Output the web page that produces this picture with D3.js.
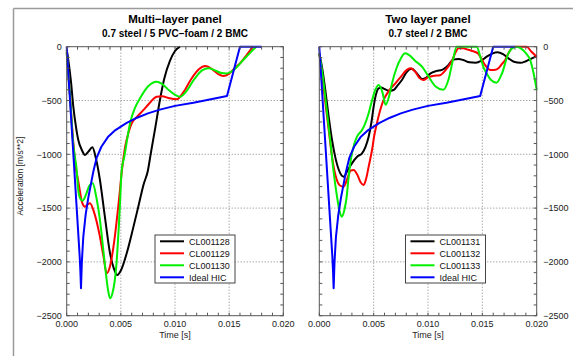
<!DOCTYPE html>
<html><head><meta charset="utf-8">
<script src="https://cdn.jsdelivr.net/npm/d3@7/dist/d3.min.js"></script>
<style>
body{margin:0;background:#fff}
svg{display:block}
text{font-family:"Liberation Sans",Arial,Helvetica,sans-serif}
</style>
</head><body>
<svg id="c" width="573" height="356"></svg>
<script>
// ---- tick labels / text ----
const xTicksMs = [0, 5, 10, 15, 20];
const yTicks = [0, -500, -1000, -1500, -2000, -2500];
const panelTitles = ["Multi\u2212layer panel", "Two layer panel"];
const panelSubtitles = ["0.7 steel / 5 PVC\u2212foam / 2 BMC", "0.7 steel / 2 BMC"];
const legendLeft = ["CL001128", "CL001129", "CL001130", "Ideal HIC"];
const legendRight = ["CL001131", "CL001132", "CL001133", "Ideal HIC"];
const seriesColors = ["#000000", "#ff0000", "#00f000", "#0000ff"];

// ---- data (time in ms, acceleration in m/s**2) ----
const hicT = [0, 1.2, 1.26, 1.32, 1.4, 1.53, 1.75, 2.0, 2.46, 2.77, 3.2, 3.8, 4.5, 5.5, 6.5, 7.5, 8.6, 10, 11.7, 13.2, 14.8, 16.0, 18.0];
const hicV = [0, -1950, -2080, -2245, -2000, -1770, -1560, -1400, -1160, -1030, -930, -840, -775, -710, -660, -620, -585, -550, -520, -490, -458, 0, 0];

const cl128T = [0, 0.15, 0.4, 0.61, 0.85, 1.07, 1.4, 1.69, 2.0, 2.37, 2.7, 3.07, 3.5, 4.0, 4.35, 4.67, 5.0, 5.54, 6.1, 6.61, 7.1, 7.5, 7.75, 8.2, 8.6, 9.0, 9.54, 10.0, 10.46];
const cl128V = [-30, -124, -330, -557, -740, -867, -960, -1006, -975, -935, -1040, -1239, -1560, -1920, -2060, -2122, -2080, -1920, -1700, -1487, -1280, -1150, -1000, -740, -500, -300, -130, -40, 0];

const cl129T = [0, 0.3, 0.6, 0.85, 1.05, 1.2, 1.4, 1.69, 1.9, 2.15, 2.5, 3.07, 3.4, 3.69, 4.0, 4.4, 4.8, 5.1, 5.4, 5.7, 6.0, 6.5, 7.07, 7.6, 8.3, 8.8, 9.5, 10.15, 10.8, 11.5, 12.2, 12.8, 13.5, 14.0, 14.46, 15.0, 15.5, 16.0, 16.6, 17.2];
const cl129V = [-50, -450, -880, -1130, -1240, -1330, -1440, -1487, -1470, -1455, -1530, -1766, -1950, -2106, -2040, -1800, -1450, -1150, -930, -800, -712, -650, -590, -530, -465, -460, -480, -489, -420, -300, -210, -180, -215, -255, -272, -250, -200, -155, -80, 0];

const cl130T = [0, 0.3, 0.6, 0.92, 1.07, 1.25, 1.48, 1.8, 2.1, 2.4, 2.7, 3.07, 3.5, 3.8, 4.0, 4.2, 4.6, 4.85, 5.08, 5.32, 5.6, 5.85, 6.3, 6.77, 7.5, 8.3, 8.8, 9.5, 10.46, 11.0, 11.8, 12.5, 13.1, 13.7, 14.3, 14.77, 15.5, 16.3, 17.0, 17.5];
const cl130V = [-50, -450, -900, -1146, -1332, -1410, -1431, -1370, -1290, -1270, -1380, -1611, -2000, -2250, -2338, -2300, -2013, -1600, -1146, -1022, -850, -712, -570, -480, -370, -325, -345, -410, -465, -420, -300, -220, -200, -220, -245, -248, -210, -124, -50, 0];

const cl131T = [0, 0.3, 0.55, 0.85, 1.17, 1.5, 1.9, 2.24, 2.6, 3.0, 3.5, 3.93, 4.25, 4.54, 4.8, 5.0, 5.2, 5.46, 5.7, 5.92, 6.4, 6.84, 7.2, 7.6, 8.0, 8.5, 9.0, 9.45, 9.8, 10.2, 10.8, 11.3, 11.8, 12.33, 12.8, 13.25, 13.8, 14.4, 14.9, 15.4, 15.9, 16.4, 16.9, 17.4, 17.9, 18.5, 19.0, 19.5, 20];
const cl131V = [-62, -220, -402, -640, -867, -1040, -1170, -1208, -1150, -1084, -1020, -991, -930, -836, -700, -557, -450, -387, -380, -390, -410, -402, -360, -310, -240, -205, -250, -300, -290, -250, -225, -215, -180, -120, -115, -124, -145, -149, -130, -93, -65, -52, -70, -108, -140, -150, -135, -110, -87];

const cl132T = [0, 0.3, 0.6, 0.9, 1.17, 1.5, 1.9, 2.24, 2.6, 2.9, 3.16, 3.5, 3.8, 4.08, 4.3, 4.55, 4.85, 5.05, 5.3, 5.6, 5.92, 6.4, 7.0, 7.5, 8.0, 8.38, 8.8, 9.2, 9.57, 10.06, 10.6, 11.1, 11.6, 12.2, 12.6, 12.8, 13.25, 13.6, 14.0, 14.6, 14.9, 15.25, 15.6, 15.86, 16.2, 16.47, 16.8, 17.1, 17.4, 17.7, 18.0, 19.08, 19.5, 20];
const cl132V = [-62, -300, -560, -800, -1022, -1200, -1290, -1301, -1220, -1150, -1146, -1190, -1260, -1285, -1230, -1110, -960, -830, -712, -590, -495, -410, -340, -280, -220, -201, -230, -290, -310, -280, -270, -265, -220, -130, -40, -15, -15, -25, -37, -62, -110, -170, -210, -217, -215, -201, -160, -124, -60, -15, 0, 0, -45, -93];

const cl133T = [0, 0.3, 0.65, 1.0, 1.3, 1.63, 1.85, 2.06, 2.3, 2.52, 2.67, 2.9, 3.2, 3.47, 3.93, 4.2, 4.54, 4.85, 5.15, 5.46, 5.8, 6.1, 6.45, 6.69, 7.1, 7.5, 7.88, 8.3, 8.8, 9.45, 10.06, 10.7, 11.4, 11.9, 12.3, 12.64, 14.48, 14.8, 15.1, 15.4, 15.8, 16.3, 16.8, 17.4, 17.8, 18.2, 18.6, 19.0, 19.4, 19.7, 20];
const cl133V = [-62, -260, -560, -867, -1150, -1394, -1520, -1580, -1520, -1394, -1240, -1050, -910, -836, -774, -720, -619, -500, -402, -356, -420, -540, -450, -340, -200, -110, -62, -80, -130, -186, -279, -370, -400, -300, -120, 0, 0, -90, -190, -250, -310, -335, -250, -62, -10, 0, -20, -60, -124, -240, -402];

// ---- layout ----
const svg = d3.select("#c");
const panels = [
  {x0: 66.7, x1: 283.3, labelSide: "left", title: panelTitles[0], sub: panelSubtitles[0], legend: legendLeft,
   series: [[cl128T, cl128V], [cl129T, cl129V], [cl130T, cl130V], [hicT, hicV]], legX: 155},
  {x0: 319.3, x1: 536.7, labelSide: "right", title: panelTitles[1], sub: panelSubtitles[1], legend: legendRight,
   series: [[cl131T, cl131V], [cl132T, cl132V], [cl133T, cl133V], [hicT, hicV]], legX: 405.5}
];
const yTop = 46.7, yBot = 315.7;
const y = d3.scaleLinear().domain([0, -2500]).range([yTop, yBot]);

// outer frame lines
svg.append("line").attr("x1", 13.5).attr("x2", 573).attr("y1", 8.5).attr("y2", 8.5).attr("stroke", "#9a9a9a").attr("stroke-width", 1.5);
svg.append("line").attr("x1", 13.5).attr("x2", 13.5).attr("y1", 8.5).attr("y2", 356).attr("stroke", "#9a9a9a").attr("stroke-width", 1.5);

const axisColor = "#555";
const fmtY = d => d === 0 ? "0" : "\u2212" + Math.abs(d);

panels.forEach(p => {
  const x = d3.scaleLinear().domain([0, 20]).range([p.x0, p.x1]);
  const g = svg.append("g");
  const cx = (p.x0 + p.x1) / 2;

  // titles
  g.append("text").attr("x", cx).attr("y", 23.3).attr("text-anchor", "middle")
    .attr("font-size", 11.5).attr("font-weight", "bold").text(p.title);
  g.append("text").attr("x", cx).attr("y", 36.5).attr("text-anchor", "middle")
    .attr("font-size", 10).attr("font-weight", "bold").text(p.sub);

  // grid
  xTicksMs.slice(1, -1).forEach(t => {
    g.append("line").attr("x1", x(t)).attr("x2", x(t)).attr("y1", yTop).attr("y2", yBot)
      .attr("stroke", "#666").attr("stroke-width", 0.8).attr("stroke-dasharray", "1,2");
  });
  yTicks.slice(1, -1).forEach(v => {
    g.append("line").attr("x1", p.x0).attr("x2", p.x1).attr("y1", y(v)).attr("y2", y(v))
      .attr("stroke", "#666").attr("stroke-width", 0.8).attr("stroke-dasharray", "1,2");
  });

  // curves
  const line = d3.line().x(d => x(d[0])).y(d => y(d[1]));
  p.series.forEach((s, i) => {
    const pts = s[0].map((t, k) => [t, s[1][k]]);
    g.append("path").datum(pts)
      .attr("d", line.curve(i === 3 ? d3.curveLinear : d3.curveMonotoneX))
      .attr("fill", "none").attr("stroke", seriesColors[i]).attr("stroke-width", 2)
      .attr("stroke-linejoin", "round");
  });

  // box
  g.append("rect").attr("x", p.x0).attr("y", yTop).attr("width", p.x1 - p.x0).attr("height", yBot - yTop)
    .attr("fill", "none").attr("stroke", axisColor).attr("stroke-width", 1);

  // minor ticks (inside)
  const xMinor = d3.range(0, 20.001, 1);
  xMinor.forEach(t => {
    g.append("line").attr("x1", x(t)).attr("x2", x(t)).attr("y1", yBot).attr("y2", yBot - 3).attr("stroke", axisColor);
    g.append("line").attr("x1", x(t)).attr("x2", x(t)).attr("y1", yTop).attr("y2", yTop + 3).attr("stroke", axisColor);
  });
  const yMinor = d3.range(0, -2500.001, -100);
  yMinor.forEach(v => {
    g.append("line").attr("x1", p.x0).attr("x2", p.x0 + 3).attr("y1", y(v)).attr("y2", y(v)).attr("stroke", axisColor);
    g.append("line").attr("x1", p.x1).attr("x2", p.x1 - 3).attr("y1", y(v)).attr("y2", y(v)).attr("stroke", axisColor);
  });

  // x tick labels
  xTicksMs.forEach(t => {
    g.append("text").attr("x", x(t)).attr("y", 327).attr("text-anchor", "middle")
      .attr("font-size", 9).attr("fill", "#222").text((t / 1000).toFixed(3));
  });
  g.append("text").attr("x", cx).attr("y", 338).attr("text-anchor", "middle")
    .attr("font-size", 9).attr("fill", "#222").text("Time [s]");

  // y tick labels
  yTicks.forEach(v => {
    if (p.labelSide === "left") {
      g.append("text").attr("x", p.x0 - 5).attr("y", y(v) + 3.2).attr("text-anchor", "end")
        .attr("font-size", 9).attr("fill", "#222").text(fmtY(v));
    } else {
      g.append("text").attr("x", p.x1 + 6.5).attr("y", y(v) + 3.2).attr("text-anchor", "start")
        .attr("font-size", 9).attr("fill", "#222").text(fmtY(v));
    }
  });

  // legend
  const lg = g.append("g");
  lg.append("rect").attr("x", p.legX).attr("y", 235).attr("width", 80).attr("height", 48)
    .attr("fill", "#fff").attr("stroke", "#444").attr("stroke-width", 1);
  p.legend.forEach((name, i) => {
    const ly = 241.3 + i * 12;
    lg.append("line").attr("x1", p.legX + 5).attr("x2", p.legX + 29).attr("y1", ly).attr("y2", ly)
      .attr("stroke", seriesColors[i]).attr("stroke-width", 2);
    lg.append("text").attr("x", p.legX + 34).attr("y", ly + 3.3).attr("font-size", 9).attr("fill", "#111").text(name);
  });
});

// y axis label
svg.append("text").attr("transform", "translate(23,176) rotate(-90)").attr("text-anchor", "middle")
  .attr("font-size", 8.5).attr("fill", "#222").text("Acceleration [m/s**2]");
</script>
</body></html>
